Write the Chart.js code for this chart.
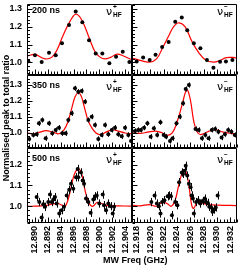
<!DOCTYPE html>
<html><head><meta charset="utf-8">
<script src="https://cdn.jsdelivr.net/npm/chart.js@4.4.0/dist/chart.umd.min.js"></script>
<style>
html,body{margin:0;padding:0;background:#fff;}
#wrap{position:relative;width:241px;height:269px;overflow:hidden;font-family:"Liberation Sans",Arial,sans-serif;color:#000;}
canvas{position:absolute;left:0;top:0;}
.lbl{position:absolute;font-weight:bold;font-size:9px;line-height:9px;white-space:nowrap;}
.nu{position:absolute;font-size:11px;line-height:11px;white-space:nowrap;font-family:"DejaVu Sans",sans-serif;}
.nu .s{position:absolute;font-size:6.5px;line-height:6.5px;font-family:"Liberation Sans",sans-serif;font-weight:bold;}
#ytitle{position:absolute;left:-94px;top:113px;width:200px;height:10px;text-align:center;font-weight:bold;font-size:9px;line-height:10px;transform:rotate(-90deg);white-space:nowrap;}
</style></head><body>
<div id="wrap">
<canvas id="c0" width="241" height="269"></canvas>
<canvas id="c1" width="241" height="269"></canvas>
<canvas id="c2" width="241" height="269"></canvas>
<canvas id="c3" width="241" height="269"></canvas>
<canvas id="c4" width="241" height="269"></canvas>
<canvas id="c5" width="241" height="269"></canvas>
<div class="lbl" style="left:32px;top:6px">200 ns</div>
<div class="lbl" style="left:32px;top:81px">350 ns</div>
<div class="lbl" style="left:32px;top:154px">500 ns</div>
<div class="nu" style="left:106px;top:6px">ν<span class="s" style="left:7px;top:-2px">+</span><span class="s" style="left:7px;top:6px">HF</span></div>
<div class="nu" style="left:217px;top:6px">ν<span class="s" style="left:7px;top:-2px">−</span><span class="s" style="left:7px;top:6px">HF</span></div>
<div class="nu" style="left:106px;top:81px">ν<span class="s" style="left:7px;top:-2px">+</span><span class="s" style="left:7px;top:6px">HF</span></div>
<div class="nu" style="left:217px;top:81px">ν<span class="s" style="left:7px;top:-2px">−</span><span class="s" style="left:7px;top:6px">HF</span></div>
<div class="nu" style="left:106px;top:154px">ν<span class="s" style="left:7px;top:-2px">+</span><span class="s" style="left:7px;top:6px">HF</span></div>
<div class="nu" style="left:217px;top:154px">ν<span class="s" style="left:7px;top:-2px">−</span><span class="s" style="left:7px;top:6px">HF</span></div>
<div id="ytitle">Normalised peak to total ratio</div>
<div class="lbl" style="left:103px;top:256px">MW Freq (GHz)</div>
</div>
<script>
// ---------------- data ----------------
const xTicksLeft  = [12.890, 12.892, 12.894, 12.896, 12.898, 12.900, 12.902, 12.904];
const xTicksRight = [12.918, 12.920, 12.922, 12.924, 12.926, 12.928, 12.930, 12.932];
const yTicks200 = [1.0, 1.1, 1.2, 1.3];
const yTicks350 = [1.0, 1.1, 1.2, 1.3];
const yTicks500 = [1.0, 1.1, 1.2];

const xRangeLeft  = [12.88876, 12.90508];
const xRangeRight = [12.91726, 12.93300];
const yRange200 = [0.930, 1.327];
const yRange350 = [0.906, 1.3625];
const yRange500 = [0.919, 1.281];

// 200 ns, nu+
const freq200Plus  = [12.88896,12.89000,12.89104,12.89218,12.89322,12.89420,12.89529,12.89633,12.89736,12.89840,12.89944,12.90047,12.90156,12.90260,12.90364,12.90467];
const ratio200Plus = [1.007,1.041,1.002,1.055,1.041,1.107,1.210,1.285,1.225,1.125,1.050,1.050,0.996,1.032,1.060,1.002];
const fitFreq200Plus  = [12.88876,12.89000,12.89156,12.89264,12.89342,12.89435,12.89544,12.89638,12.89731,12.89840,12.89933,12.90011,12.90089,12.90182,12.90275,12.90384,12.90508];
const fitRatio200Plus = [1.035,1.045,1.020,1.030,1.070,1.150,1.230,1.270,1.235,1.140,1.060,1.030,1.020,1.030,1.047,1.035,1.015];
// 200 ns, nu-
const freq200Minus  = [12.91796,12.91893,12.91991,12.92079,12.92178,12.92275,12.92374,12.92472,12.92554,12.92653,12.92751,12.92849,12.92947,12.93046,12.93134,12.93231];
const ratio200Minus = [1.005,1.028,1.014,1.043,1.086,1.114,1.228,1.251,1.180,1.107,1.079,1.014,0.970,1.004,1.005,1.014];
const fitFreq200Minus  = [12.91726,12.91844,12.91991,12.92094,12.92182,12.92285,12.92359,12.92432,12.92521,12.92624,12.92726,12.92829,12.92947,12.93050,12.93138,12.93241,12.93300];
const fitRatio200Minus = [1.025,1.012,1.002,1.020,1.080,1.155,1.205,1.222,1.200,1.118,1.055,1.014,1.002,1.012,1.027,1.028,1.024];
// 350 ns, nu+
const freq350Plus  = [12.88911,12.88974,12.89026,12.89062,12.89114,12.89166,12.89218,12.89269,12.89322,12.89373,12.89425,12.89477,12.89518,12.89571,12.89622,12.89673,12.89726,12.89778,12.89829,12.89882,12.89933,12.89984,12.90037,12.90089,12.90140,12.90193,12.90244,12.90295,12.90348,12.90400,12.90451,12.90493];
const ratio350Plus = [0.963,0.988,0.992,1.060,1.081,0.967,1.060,0.998,1.019,1.033,0.998,0.998,1.081,1.123,1.279,1.258,1.263,1.196,1.081,1.102,1.050,0.963,0.988,1.050,0.992,1.019,1.033,0.992,0.979,1.033,0.988,0.950];
const fitFreq350Plus  = [12.88876,12.88969,12.89078,12.89171,12.89280,12.89373,12.89451,12.89513,12.89575,12.89622,12.89669,12.89715,12.89762,12.89824,12.89886,12.89949,12.90011,12.90104,12.90197,12.90291,12.90400,12.90508];
const fitRatio350Plus = [1.000,0.995,1.005,1.015,1.005,0.995,1.020,1.070,1.160,1.225,1.250,1.235,1.170,1.080,1.030,1.000,0.990,1.005,1.020,1.012,1.000,0.995];
// 350 ns, nu-
const freq350Minus  = [12.91771,12.91819,12.91859,12.91907,12.91957,12.92006,12.92054,12.92104,12.92153,12.92201,12.92237,12.92296,12.92334,12.92393,12.92443,12.92491,12.92531,12.92579,12.92678,12.92726,12.92775,12.92825,12.92874,12.92922,12.92972,12.93021,12.93069,12.93119,12.93168,12.93216,12.93266];
const ratio350Minus = [1.013,1.019,1.019,1.033,1.060,0.977,1.029,0.988,1.067,0.988,0.977,0.950,0.967,1.060,1.102,1.186,1.275,1.300,1.025,1.019,0.967,0.988,0.967,1.019,1.025,1.008,0.971,0.992,1.019,1.008,0.988];
const fitFreq350Minus  = [12.91726,12.91844,12.91962,12.92079,12.92182,12.92256,12.92329,12.92403,12.92476,12.92531,12.92557,12.92604,12.92653,12.92701,12.92756,12.92874,12.92976,12.93094,12.93197,12.93300];
const fitRatio350Minus = [1.000,0.997,1.005,1.012,1.000,0.985,1.000,1.070,1.175,1.260,1.270,1.200,1.070,1.008,0.990,1.010,1.020,1.005,0.998,0.995];
// 500 ns, nu+
const freq500Plus  = [12.89026,12.89067,12.89104,12.89129,12.89156,12.89207,12.89233,12.89260,12.89285,12.89311,12.89337,12.89378,12.89415,12.89451,12.89493,12.89533,12.89560,12.89596,12.89638,12.89664,12.89673,12.89715,12.89742,12.89762,12.89793,12.89829,12.89866,12.89907,12.89933,12.89960,12.90000,12.90053,12.90073,12.90104,12.90140,12.90177,12.90208,12.90229];
const ratio500Plus = [1.044,1.020,0.946,1.010,0.997,1.020,1.057,1.020,1.032,1.044,1.013,0.965,0.981,0.997,1.052,1.079,1.108,1.084,1.140,1.180,1.140,1.163,1.124,1.108,1.037,1.020,0.968,1.032,1.048,1.052,1.013,1.056,1.005,0.981,1.013,1.000,0.965,0.997];
const fitFreq500Plus  = [12.88876,12.89000,12.89156,12.89264,12.89358,12.89420,12.89467,12.89513,12.89560,12.89607,12.89653,12.89684,12.89723,12.89762,12.89809,12.89855,12.89902,12.89964,12.90042,12.90135,12.90291,12.90508];
const fitRatio500Plus = [1.000,1.000,1.003,1.010,1.013,1.005,1.000,1.030,1.090,1.150,1.178,1.180,1.160,1.100,1.040,1.008,1.000,1.018,1.012,1.003,1.002,1.000];
// 500 ns, nu-
const freq500Minus  = [12.92016,12.92065,12.92099,12.92128,12.92153,12.92178,12.92212,12.92260,12.92285,12.92310,12.92325,12.92374,12.92407,12.92432,12.92472,12.92491,12.92516,12.92531,12.92554,12.92579,12.92604,12.92619,12.92638,12.92653,12.92687,12.92716,12.92751,12.92785,12.92815,12.92834,12.92863,12.92884,12.92913,12.92932,12.92962,12.92981,12.93010];
const ratio500Minus = [1.020,1.052,1.013,1.000,0.965,1.020,1.029,1.048,1.052,1.048,0.957,1.020,1.005,1.116,1.163,1.156,1.171,1.195,1.148,1.108,1.092,1.052,1.037,0.965,1.020,1.029,1.013,1.025,1.037,1.020,1.016,0.997,0.994,0.973,0.984,0.994,1.052];
const fitFreq500Minus  = [12.91726,12.91844,12.91991,12.92094,12.92182,12.92256,12.92315,12.92374,12.92418,12.92462,12.92506,12.92550,12.92587,12.92624,12.92653,12.92712,12.92785,12.92874,12.93021,12.93300];
const fitRatio500Minus = [1.005,1.002,1.008,1.000,1.020,1.012,1.000,1.030,1.090,1.145,1.175,1.150,1.080,1.000,0.990,1.025,1.015,1.008,1.005,1.003];

const err200 = 0.006, err350 = 0.016, err500 = 0.02;

// ---------------- layout ----------------
const W = 241, H = 269;
const COLS = [[27, 132], [132, 239]];
const ROWS = [[1, 75], [75, 148], [148, 223]];
const FONT = {family: 'Liberation Sans', weight: 'bold', size: 9};

const pts = (xs, ys) => xs.map((x, i) => ({x, y: ys[i]}));

const framePlugin = {
  id: 'frame',
  afterDatasetsDraw(chart, args, opts) {
    const ctx = chart.ctx, ca = chart.chartArea;
    const xs = chart.scales.x, ys = chart.scales.y;
    ctx.save();
    // error bars
    ctx.strokeStyle = '#000'; ctx.lineWidth = 1;
    const ds = chart.data.datasets[0];
    if (opts.err > 0) {
      ctx.beginPath();
      ds.data.forEach(p => {
        const px = Math.round(xs.getPixelForValue(p.x)) + 0.5;
        ctx.moveTo(px, ys.getPixelForValue(p.y - opts.err));
        ctx.lineTo(px, ys.getPixelForValue(p.y + opts.err));
      });
      ctx.stroke();
    }
    const L = Math.round(ca.left) + 0.5, R = Math.round(ca.right) - 0.5;
    const T = Math.round(ca.top) + 0.5, B = Math.round(ca.bottom) - 0.5;
    ctx.beginPath();
    ctx.rect(L, T, R - L, B - T);
    // y ticks (inner, left side)
    for (let k = Math.ceil(ys.min * 50); k <= Math.floor(ys.max * 50); k++) {
      const py = Math.round(ys.getPixelForValue(k / 50)) + 0.5;
      const len = (k % 5 === 0) ? 5 : 2.5;
      ctx.moveTo(L, py); ctx.lineTo(L + len, py);
    }
    // x ticks (inner, bottom side)
    for (let k = Math.ceil(xs.min * 2000); k <= Math.floor(xs.max * 2000); k++) {
      const px = Math.round(xs.getPixelForValue(k / 2000)) + 0.5;
      const len = (k % 4 === 0) ? 5 : 3;
      ctx.moveTo(px, B); ctx.lineTo(px, B - len);
    }
    ctx.stroke();
    ctx.restore();
  }
};

function panel(id, col, row, xr, yr, xTicks, yTicks, xs, ys, fxs, fys, err) {
  const [left, right] = COLS[col];
  const [top, bottom] = ROWS[row];
  const showX = row === 2, showY = col === 0;
  new Chart(document.getElementById(id), {
    type: 'scatter',
    data: {datasets: [
      {data: pts(xs, ys), pointRadius: 2, pointBackgroundColor: '#000', pointBorderWidth: 0, showLine: false},
      {data: pts(fxs, fys), showLine: true, borderColor: '#ff0000', borderWidth: 1.2, pointRadius: 0, tension: 0.4, fill: false}
    ]},
    options: {
      responsive: false, animation: false, devicePixelRatio: 1, events: [],
      layout: {padding: {left: 0, top: top, right: W - right, bottom: 0}},
      plugins: {legend: {display: false}, tooltip: {enabled: false}, frame: {err}},
      scales: {
        x: {type: 'linear', min: xr[0], max: xr[1],
            grid: {display: false, drawTicks: false}, border: {display: false},
            ticks: {display: showX, autoSkip: false, minRotation: 90, maxRotation: 90, padding: 3,
                    font: FONT, color: '#000', callback: v => v.toFixed(3)},
            afterBuildTicks: s => { s.ticks = xTicks.map(v => ({value: v})); },
            afterFit: s => { s.height = H - bottom; s.paddingLeft = s.paddingRight = s.paddingTop = s.paddingBottom = 0; }},
        y: {type: 'linear', min: yr[0], max: yr[1],
            grid: {display: false, drawTicks: false}, border: {display: false},
            ticks: {display: showY, autoSkip: false, padding: 5, font: FONT, color: '#000',
                    callback: v => v.toFixed(1)},
            afterBuildTicks: s => { s.ticks = yTicks.map(v => ({value: v})); },
            afterFit: s => { s.width = left; s.paddingLeft = s.paddingRight = s.paddingTop = s.paddingBottom = 0; }}
      }
    },
    plugins: [framePlugin]
  });
}

panel('c0', 0, 0, xRangeLeft,  yRange200, xTicksLeft,  yTicks200, freq200Plus,  ratio200Plus,  fitFreq200Plus,  fitRatio200Plus,  err200);
panel('c1', 1, 0, xRangeRight, yRange200, xTicksRight, yTicks200, freq200Minus, ratio200Minus, fitFreq200Minus, fitRatio200Minus, err200);
panel('c2', 0, 1, xRangeLeft,  yRange350, xTicksLeft,  yTicks350, freq350Plus,  ratio350Plus,  fitFreq350Plus,  fitRatio350Plus,  err350);
panel('c3', 1, 1, xRangeRight, yRange350, xTicksRight, yTicks350, freq350Minus, ratio350Minus, fitFreq350Minus, fitRatio350Minus, err350);
panel('c4', 0, 2, xRangeLeft,  yRange500, xTicksLeft,  yTicks500, freq500Plus,  ratio500Plus,  fitFreq500Plus,  fitRatio500Plus,  err500);
panel('c5', 1, 2, xRangeRight, yRange500, xTicksRight, yTicks500, freq500Minus, ratio500Minus, fitFreq500Minus, fitRatio500Minus, err500);
</script>
</body></html>
